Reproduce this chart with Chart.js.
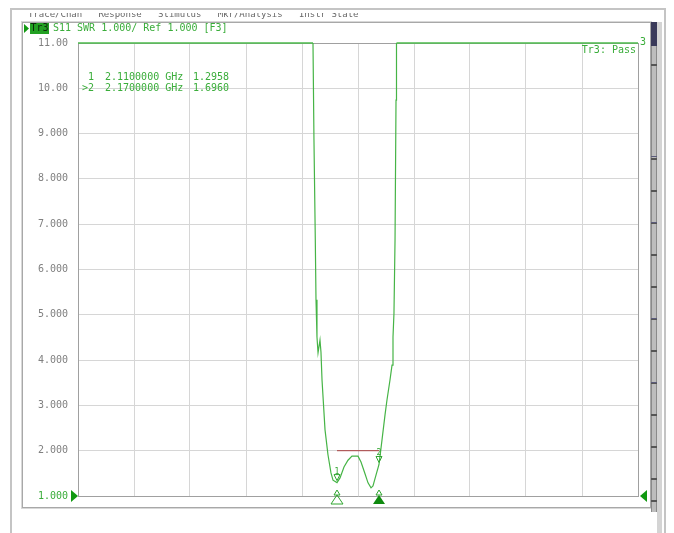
<!DOCTYPE html>
<html>
<head>
<meta charset="utf-8">
<script src="https://cdn.jsdelivr.net/npm/chart.js@4/dist/chart.umd.min.js"></script>
<style>
html,body{margin:0;padding:0;background:#fff;}
#wrap{width:674px;height:533px;position:relative;}
</style>
</head>
<body>
<div id="wrap"><canvas id="c" width="674" height="533"></canvas></div>
<script>
// ---- data ----
const freqGHz = [1.74, 1.90, 2.06, 2.0757, 2.0771, 2.0790, 2.0800, 2.0814, 2.0829, 2.0857, 2.0871, 2.0886, 2.0929, 2.0971, 2.1014, 2.1043, 2.1100, 2.1143, 2.1200, 2.1257, 2.1314, 2.1400, 2.1443, 2.1500, 2.1543, 2.1586, 2.1614, 2.1657, 2.1700, 2.1743, 2.1786, 2.1814, 2.1857, 2.1886, 2.1900, 2.1914, 2.1929, 2.1943, 2.1950, 2.30, 2.45, 2.54];
const swr     = [11, 11, 11, 11.0, 8.86, 6.65, 5.33, 4.51, 4.16, 4.44, 4.18, 3.56, 2.46, 1.91, 1.51, 1.35, 1.2958, 1.40, 1.64, 1.79, 1.88, 1.88, 1.75, 1.49, 1.29, 1.18, 1.22, 1.46, 1.696, 2.24, 2.79, 3.12, 3.56, 3.89, 4.51, 5.04, 6.65, 9.74, 11, 11, 11, 11];
const limitFreq = [2.11, 2.17];
const limitSWR  = [2.0, 2.0];
const markerNum  = ['1', '2'];
const markerFreq = [2.11, 2.17];
const markerSWR  = [1.2958, 1.6960];
const markerText = ['2.1100000 GHz', '2.1700000 GHz'];
const yTickValues = [11, 10, 9, 8, 7, 6, 5, 4, 3, 2, 1];
const yTickLabels = ['11.00', '10.00', '9.000', '8.000', '7.000', '6.000', '5.000', '4.000', '3.000', '2.000', '1.000'];
const freqStart = 1.74, freqStop = 2.54, freqStep = 0.08;
const yMin = 1, yMax = 11;
const titleText = 'S11 SWR 1.000/ Ref 1.000 [F3]';
const menuText = 'Trace/Chan   Response   Stimulus   Mkr/Analysis   Instr State';

const GREEN = '#3aad3a';
const TRACE = '#46b446';
const MONO = '"DejaVu Sans Mono", "Liberation Mono", monospace';

const decor = {
  id: 'decor',
  beforeDraw(chart) {
    const c = chart.ctx;
    c.save();
    c.fillStyle = '#fff';
    c.fillRect(0, 0, chart.width, chart.height);
    c.font = '9px ' + MONO;
    c.fillStyle = '#666';
    c.textBaseline = 'alphabetic';
    c.fillText(menuText, 28, 17);
    c.fillStyle = '#fff';
    c.fillRect(0, 0, chart.width, 13);
    c.fillStyle = '#c4c4c4';
    c.fillRect(10, 8, 656, 2);
    c.fillRect(10, 8, 2, 525);
    c.fillRect(664, 8, 2, 525);
    c.strokeStyle = '#a8a8a8';
    c.lineWidth = 1;
    c.strokeRect(22.5, 22.5, 628, 485);
    c.strokeStyle = '#d8d8d8';
    c.strokeRect(21.5, 21.5, 630, 487);
    c.fillStyle = '#8a8a8a';
    c.fillRect(651, 22, 6, 490);
    c.fillStyle = '#bdbdbd';
    c.fillRect(652, 22, 4, 490);
    c.fillStyle = '#3a3a5a';
    c.fillRect(651, 22, 6, 24);
    c.fillStyle = '#555';
    for (const yy of [64, 158, 190, 222, 254, 286, 318, 350, 382, 414, 446, 478, 500]) c.fillRect(651, yy, 6, 2);
    c.fillStyle = '#5b5b7a';
    for (const yy of [156, 222, 318, 382]) c.fillRect(651, yy, 6, 1);
    c.fillStyle = '#d4d4d4';
    c.fillRect(657, 22, 5, 511);
    c.restore();
  },
  beforeDatasetsDraw(chart) {
    const c = chart.ctx, a = chart.chartArea;
    c.save();
    c.strokeStyle = '#a0a0a0';
    c.lineWidth = 1;
    c.beginPath();
    c.moveTo(a.left, a.top + 0.5); c.lineTo(a.right, a.top + 0.5);
    c.moveTo(a.right + 0.5, a.top); c.lineTo(a.right + 0.5, a.bottom);
    c.stroke();
    c.restore();
  },
  afterDraw(chart) {
    const c = chart.ctx, a = chart.chartArea;
    const xs = chart.scales.x, ys = chart.scales.y;
    c.save();
    c.fillStyle = '#129a12';
    c.beginPath(); c.moveTo(24, 24); c.lineTo(29, 28.5); c.lineTo(24, 33); c.closePath(); c.fill();
    c.fillStyle = '#22a022';
    c.fillRect(30, 23, 19, 11);
    c.font = '10px ' + MONO;
    c.textBaseline = 'middle';
    c.fillStyle = '#0b2b0b';
    c.fillText('Tr3', 30.5, 28.5);
    c.fillStyle = GREEN;
    c.fillText(titleText, 53, 28.5);
    c.textAlign = 'right';
    c.fillText('Tr3: Pass', a.right - 2, 50);
    c.textAlign = 'left';
    c.fillText('3', a.right + 2, 42);
    const rows = [77, 88];
    for (let i = 0; i < markerNum.length; i++) {
      const y = rows[i];
      c.fillStyle = GREEN;
      c.fillText((i === 1 ? '>' : ' ') + markerNum[i], 82, y);
      c.fillText(markerText[i], 105, y);
      c.fillText(markerSWR[i].toFixed(4), 193, y);
    }
    const yRef = ys.getPixelForValue(1);
    c.fillStyle = '#119911';
    c.beginPath(); c.moveTo(71, yRef - 6); c.lineTo(78, yRef); c.lineTo(71, yRef + 6); c.closePath(); c.fill();
    c.beginPath(); c.moveTo(647, yRef - 6); c.lineTo(640, yRef); c.lineTo(647, yRef + 6); c.closePath(); c.fill();
    for (let i = 0; i < markerFreq.length; i++) {
      const px = xs.getPixelForValue(markerFreq[i]);
      const py = ys.getPixelForValue(markerSWR[i]);
      c.strokeStyle = '#2fa52f'; c.fillStyle = '#2fa52f'; c.lineWidth = 1;
      c.beginPath(); c.moveTo(px - 3, py - 8); c.lineTo(px + 3, py - 8); c.lineTo(px, py - 2); c.closePath(); c.stroke();
      c.font = '8px ' + MONO; c.textAlign = 'center'; c.textBaseline = 'alphabetic';
      c.fillText(markerNum[i], px, py - 9);
      const by = a.bottom;
      c.beginPath(); c.moveTo(px - 6, by + 8); c.lineTo(px + 6, by + 8); c.lineTo(px, by - 1); c.closePath();
      if (i === 1) { c.fillStyle = '#0f8a0f'; c.fill(); } else { c.stroke(); }
      c.beginPath(); c.moveTo(px - 3, by - 1); c.lineTo(px + 3, by - 1); c.lineTo(px, by - 6); c.closePath(); c.stroke();
    }
    c.restore();
  }
};

const tracePts = freqGHz.map((f, i) => ({x: f, y: swr[i]}));
const limitPts = limitFreq.map((f, i) => ({x: f, y: limitSWR[i]}));
const atTop = (ctx) => ctx.p0.parsed.y >= yMax && ctx.p1.parsed.y >= yMax;

new Chart(document.getElementById('c'), {
  type: 'line',
  data: {
    datasets: [
      {data: limitPts, borderColor: '#a84040', borderWidth: 1, pointRadius: 0, tension: 0},
      {data: tracePts, borderColor: TRACE, borderWidth: 1.2, pointRadius: 0, tension: 0, clip: false,
       segment: {
         borderWidth: (ctx) => atTop(ctx) ? 1.4 : 1.2,
         borderColor: (ctx) => atTop(ctx) ? '#4cbb4c' : TRACE
       }}
    ]
  },
  options: {
    responsive: false,
    animation: false,
    events: [],
    layout: {padding: {left: 0, top: 43, right: 36, bottom: 37}},
    plugins: {legend: {display: false}, tooltip: {enabled: false}, title: {display: false}},
    scales: {
      x: {
        type: 'linear', min: freqStart, max: freqStop,
        ticks: {display: false, stepSize: freqStep},
        grid: {color: '#d6d6d6', lineWidth: 1, drawTicks: false},
        border: {color: '#a0a0a0', width: 1},
        afterFit(s) { s.height = 0; }
      },
      y: {
        type: 'linear', min: yMin, max: yMax,
        afterBuildTicks(s) { s.ticks = yTickValues.map(v => ({value: v})); },
        ticks: {
          padding: 10,
          font: {family: MONO, size: 10},
          color: (ctx) => ctx.tick && ctx.tick.value === 1 ? GREEN : '#808080',
          callback: (v) => yTickLabels[yTickValues.indexOf(v)]
        },
        grid: {color: '#d6d6d6', lineWidth: 1, drawTicks: false},
        border: {color: '#a0a0a0', width: 1},
        afterFit(s) { s.width = 78; }
      }
    }
  },
  plugins: [decor]
});
</script>
</body>
</html>
